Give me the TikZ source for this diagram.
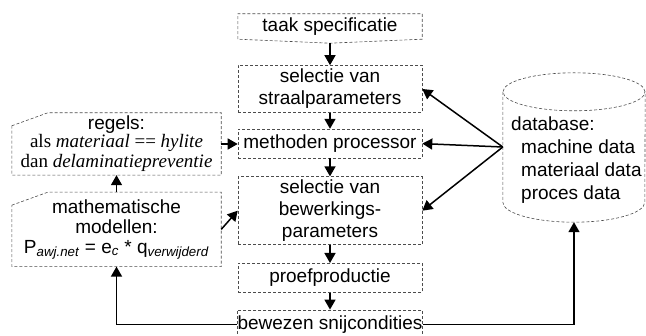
\documentclass[tikz,border=0pt]{standalone}
\usepackage{fontspec}
\setmainfont{Liberation Sans}
\newfontfamily\romfont{Liberation Serif}
\usetikzlibrary{positioning, calc, arrows.meta}

\tikzset{
  blok/.style={minimum width=184pt, inner sep=0pt, align=center},
  rand/.style={draw=black!70, densely dashed, line width=0.6pt},
  pijl/.style={-{Triangle[length=10pt,width=11pt]}, line width=1.5pt},
}

\begin{document}
\begin{tikzpicture}[x=1pt, y=-1pt, node distance=17pt, font=\fontsize{19}{22}\selectfont]
    \useasboundingbox (0,0) rectangle (646,336);

    % hoofdkolom
    \node[blok, minimum height=25pt] (taak) at (330,26.5) {taak specificatie};
    \node[blok, rand, minimum height=47pt, below=26pt of taak] (straal) {selectie van\\straalparameters};
    \node[blok, rand, minimum height=29pt, below=16pt of straal] (methoden) {methoden processor};
    \node[blok, rand, minimum height=68pt, below=18pt of methoden] (bewerking) {selectie van\\bewerkings-\\parameters};
    \node[blok, rand, minimum height=29pt, below=18pt of bewerking] (proef) {proefproductie};
    \node[blok, rand, minimum height=29pt, below=17pt of proef] (bewezen) {bewezen snijcondities};

    \coordinate (taakpunt) at ($(taak.south)+(0,4)$);
    \draw[rand] (taak.south west) -- (taak.north west) -- (taak.north east) -- (taak.south east) -- (taakpunt) -- cycle;

    % kennis links
    \node[blok, minimum width=209pt, minimum height=62pt, font=\fontsize{19}{20}\selectfont] (regels) at (116.5,144)
        {regels:\\[-2pt]{\romfont als \textit{materiaal} == \textit{hylite}}\\{\romfont dan \textit{delaminatiepreventie}}};
    \node[blok, minimum width=209pt, minimum height=74pt, below=17pt of regels, font=\fontsize{19}{20}\selectfont] (wiskunde)
        {mathematische\\modellen:\\P\textsubscript{\textit{awj.net}} = e\textsubscript{\textit{c}} * q\textsubscript{\textit{verwijderd}}};
    \foreach \n in {regels, wiskunde}
        \draw[rand] ($(\n.north west)+(0,13)$) -- ($(\n.north west)+(36,0)$) -- (\n.north east) -- (\n.south east) -- (\n.south west) -- cycle;

    % database
    \node[minimum width=142pt, minimum height=110pt, inner sep=0pt] (db) at (574,147) {};
    \node[align=left, anchor=west, inner sep=0pt, font=\fontsize{19}{23}\selectfont] (dbtekst) at (511,160.5)
        {database:\\\hspace*{10pt}machine data\\\hspace*{10pt}materiaal data\\\hspace*{10pt}proces data};
    \draw[rand] (db.north west) -- (db.south west) arc[start angle=180, end angle=360, x radius=71pt, y radius=20pt] -- (db.north east);
    \draw[rand] (db.north) ellipse[x radius=71pt, y radius=19pt];
    \coordinate (dbbodem) at ($(db.south)+(0,20)$);

    \draw[pijl] (taakpunt) -- (straal);
    \draw[pijl] (straal) -- (methoden);
    \draw[pijl] (methoden) -- (bewerking);
    \draw[pijl] (bewerking) -- (proef);
    \draw[pijl] (proef) -- (bewezen);

    \draw[pijl] (regels.east) -- (regels.east -| methoden.west);
    \draw[pijl] (wiskunde) -- (regels);
    \draw[pijl] (wiskunde.east) -- (bewerking.west);

    \draw[pijl] (db.west) -- (straal.east);
    \draw[pijl] (db.west) -- (methoden.east);
    \draw[pijl] (db.west) -- (bewerking.east);

    \draw[pijl] (bewezen.west) -| (wiskunde.south);
    \draw[pijl] (bewezen.east) -| (dbbodem);
\end{tikzpicture}
\end{document}
